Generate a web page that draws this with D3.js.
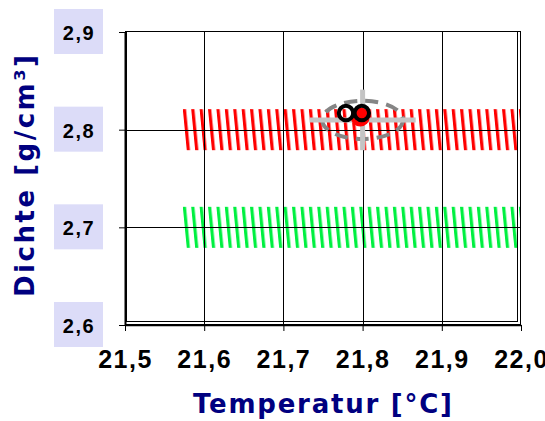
<!DOCTYPE html>
<html><head><meta charset="utf-8">
<script src="https://cdn.jsdelivr.net/npm/d3@7"></script>
<style>body{margin:0;background:#fff}</style>
</head><body>
<svg id="c" width="545" height="421"></svg>
<script>
// ---- data ----
const xTickValues = [21.5, 21.6, 21.7, 21.8, 21.9, 22.0];
const xTickLabels = ["21,5", "21,6", "21,7", "21,8", "21,9", "22,0"];
const yTickValues = [2.6, 2.7, 2.8, 2.9];
const yTickLabels = ["2,6", "2,7", "2,8", "2,9"];
const xTitle = "Temperatur [°C]";
const yTitle = "Dichte [g/cm³]";

// reference ranges (hatched bands)
const bandNames = ["rot", "grün"];
const bandCenter = [2.80, 2.70];
const bandHalf = [0.021, 0.021];
const bandXStart = [21.573, 21.573];
const bandXEnd = [21.999, 21.999];

// measured points
const pointX = [21.779, 21.799];
const pointY = [2.817, 2.817];
const meanX = [21.797];
const meanY = [2.813];
// uncertainty
const errCenterX = [21.8];
const errCenterY = [2.81];
const errX = [0.067];
const errY = [0.031];
const ellRx = [0.051];
const ellRy = [0.0196];

// ---- layout ----
const svg = d3.select("#c");
const x = d3.scaleLinear().domain([21.5, 22.0]).range([125, 521]);
const y = d3.scaleLinear().domain([2.6, 2.9]).range([325, 32]);
const bandColors = ["#ff0000", "#00f040"];

const defs = svg.append("defs");
bandNames.forEach((n, i) => {
  const top = y(bandCenter[i] + bandHalf[i]);
  const p = defs.append("pattern").attr("id", "hatch" + i)
    .attr("patternUnits", "userSpaceOnUse").attr("width", 8.4).attr("height", 200)
    .attr("patternTransform", `translate(${x(bandXStart[i])},${top}) skewX(5.5)`);
  p.append("rect").attr("x", 0).attr("y", 0).attr("width", 3.2).attr("height", 200)
    .attr("fill", bandColors[i]);
});

// bands
svg.append("g").selectAll("rect").data(bandNames).join("rect")
  .attr("x", (d, i) => x(bandXStart[i]))
  .attr("y", (d, i) => y(bandCenter[i] + bandHalf[i]))
  .attr("width", (d, i) => x(bandXEnd[i]) - x(bandXStart[i]))
  .attr("height", (d, i) => y(bandCenter[i] - bandHalf[i]) - y(bandCenter[i] + bandHalf[i]))
  .attr("fill", (d, i) => `url(#hatch${i})`);

// gridlines
const grid = svg.append("g").attr("stroke", "#000").attr("stroke-width", 1).attr("shape-rendering", "crispEdges");
grid.selectAll("line.v").data(xTickValues.slice(1, -1)).join("line")
  .attr("x1", d => Math.round(x(d)) + 0.5).attr("x2", d => Math.round(x(d)) + 0.5)
  .attr("y1", y(2.9)).attr("y2", y(2.6));
grid.selectAll("line.h").data(yTickValues.slice(1, -1)).join("line")
  .attr("x1", x(21.5)).attr("x2", x(22.0))
  .attr("y1", d => Math.round(y(d)) + 0.5).attr("y2", d => Math.round(y(d)) + 0.5);

// frame (double border like the original plot area)
svg.append("rect").attr("x", 125.5).attr("y", 31.5).attr("width", 395).attr("height", 293)
  .attr("fill", "none").attr("stroke", "#000").attr("shape-rendering", "crispEdges");
svg.append("rect").attr("x", 126.5).attr("y", 31.5).attr("width", 391).attr("height", 290)
  .attr("fill", "none").attr("stroke", "#000").attr("shape-rendering", "crispEdges");

// uncertainty ellipse
svg.append("g").selectAll("ellipse").data(errCenterX).join("ellipse")
  .attr("cx", (d) => x(d)).attr("cy", (d, i) => y(errCenterY[i]))
  .attr("rx", (d, i) => x(d + ellRx[i]) - x(d))
  .attr("ry", (d, i) => y(errCenterY[i]) - y(errCenterY[i] + ellRy[i]))
  .attr("fill", "none").attr("stroke", "#858585").attr("stroke-width", 4)
  .attr("stroke-dasharray", "13 8");

// error bars
const eb = svg.append("g").attr("stroke", "#c4c4c4").attr("stroke-width", 5);
errCenterX.forEach((cx, i) => {
  eb.append("line").attr("x1", x(cx - errX[i])).attr("x2", x(cx + errX[i]))
    .attr("y1", y(errCenterY[i])).attr("y2", y(errCenterY[i]));
  eb.append("line").attr("x1", x(cx)).attr("x2", x(cx))
    .attr("y1", y(errCenterY[i] + errY[i])).attr("y2", y(errCenterY[i] - errY[i]));
});

// mean point (red)
svg.append("g").selectAll("circle").data(meanX).join("circle")
  .attr("cx", d => x(d)).attr("cy", (d, i) => y(meanY[i])).attr("r", 9.5)
  .attr("fill", "#ff0000");

// measured points (black open circles)
svg.append("g").selectAll("circle").data(pointX).join("circle")
  .attr("cx", d => x(d)).attr("cy", (d, i) => y(pointY[i])).attr("r", 7.2)
  .attr("fill", "none").attr("stroke", "#000").attr("stroke-width", 4);

// x axis
const xa = svg.append("g").attr("transform", `translate(0,${y(2.6)})`)
  .call(d3.axisBottom(x).tickValues(xTickValues).tickFormat((d, i) => xTickLabels[i]).tickSize(6).tickSizeOuter(0));
xa.select(".domain").attr("stroke-width", 1.5);
xa.selectAll("text").attr("y", 43).attr("dy", null)
  .attr("font-family", "'Liberation Sans', Arial, sans-serif").attr("font-weight", "bold")
  .attr("font-size", 25).attr("letter-spacing", 1.5).attr("fill", "#000");

// y axis
const ya = svg.append("g").attr("transform", `translate(${x(21.5)},0)`)
  .call(d3.axisLeft(y).tickValues(yTickValues).tickFormat("").tickSize(6).tickSizeOuter(0));
ya.select(".domain").attr("stroke-width", 2);

// y tick label boxes
const yl = svg.append("g");
yl.selectAll("rect").data(yTickValues).join("rect")
  .attr("x", 54).attr("y", d => y(d) - 23).attr("width", 49).attr("height", 45)
  .attr("fill", "#dcdcf8");
yl.selectAll("text").data(yTickValues).join("text")
  .attr("x", 79).attr("y", d => y(d) + 8)
  .attr("text-anchor", "middle")
  .attr("font-family", "'Liberation Sans', Arial, sans-serif").attr("font-weight", "bold")
  .attr("font-size", 20).attr("letter-spacing", 1.5).attr("fill", "#000")
  .text((d, i) => yTickLabels[i]);

// titles
svg.append("text").attr("x", 193).attr("y", 413)
  .attr("textLength", 259).attr("lengthAdjust", "spacing")
  .attr("font-family", "'DejaVu Sans', Verdana, sans-serif").attr("font-weight", "bold")
  .attr("font-size", 26).attr("fill", "#000080").text(xTitle);
svg.append("text").attr("transform", "translate(34,297) rotate(-90)")
  .attr("x", 0).attr("y", 0)
  .attr("textLength", 242).attr("lengthAdjust", "spacing")
  .attr("font-family", "'DejaVu Sans', Verdana, sans-serif").attr("font-weight", "bold")
  .attr("font-size", 26).attr("fill", "#000080").text(yTitle);
</script>
</body></html>
